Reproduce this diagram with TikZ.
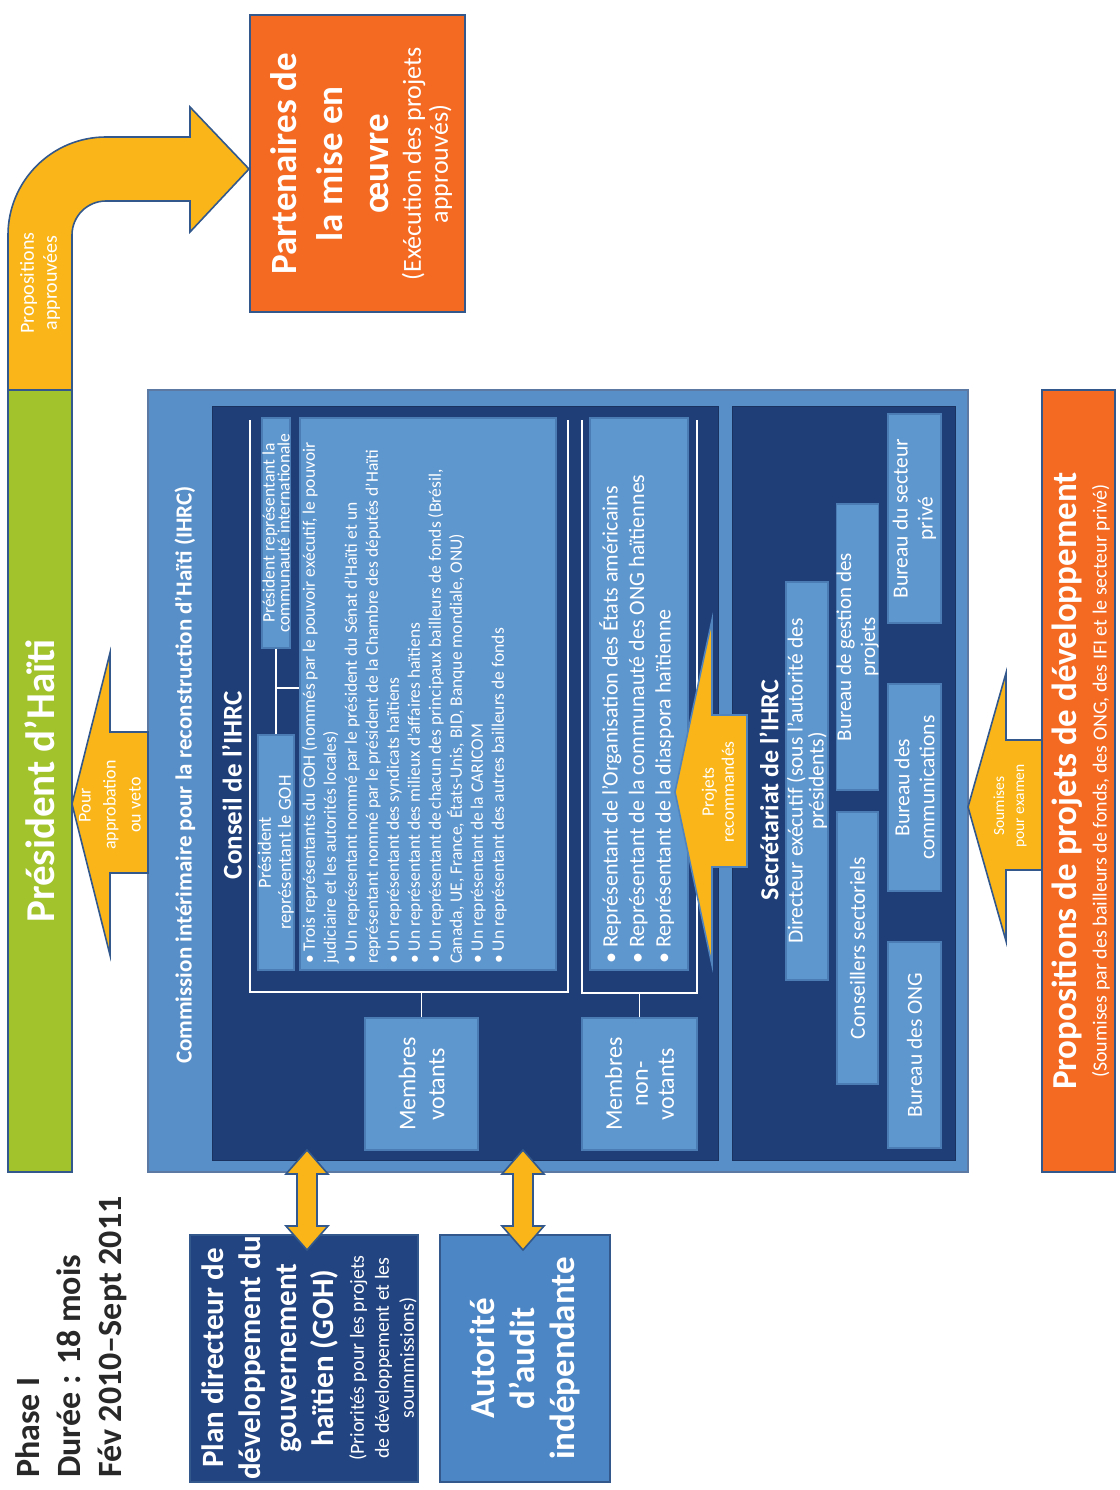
\documentclass[tikz,border=0pt]{standalone}
\usepackage{fontspec}
\setmainfont{Carlito}
\newcommand{\myfs}[2]{\fontsize{#1}{#2}\selectfont}
\definecolor{navy}{RGB}{31,62,120}
\definecolor{midblue}{RGB}{88,143,200}
\definecolor{lightbox}{RGB}{94,150,206}
\definecolor{auditblue}{RGB}{76,134,197}
\definecolor{planblue}{RGB}{34,68,128}
\definecolor{arrowfill}{RGB}{250,182,24}
\definecolor{orangebox}{RGB}{244,106,34}
\definecolor{greenbar}{RGB}{162,195,44}
\definecolor{edgeblue}{RGB}{50,88,140}
\definecolor{phasegray}{RGB}{40,40,40}
\begin{document}
\begin{tikzpicture}[x=1pt,y=-1pt,
  rbox/.style={rotate=90, draw=edgeblue, line width=1.5pt, inner sep=0pt, align=center, text=white},
  lbox/.style={rbox, fill=lightbox, draw=lightbox!70!navy, line width=1.2pt},
  rtext/.style={rotate=90, inner sep=0pt, align=center, text=white},
  blockarrow/.style={fill=arrowfill, draw=edgeblue, line width=1.6pt, line join=miter},
  wline/.style={draw=white, line width=1.4pt}]
\useasboundingbox (0,0) rectangle (1119,1490);
\fill[white] (0,0) rectangle (1119,1490);

% ---- Phase text
\node[rotate=90, anchor=north west, align=left, inner sep=0pt, text=phasegray,
      font=\bfseries\myfs{34}{41}] (phase) at (15,1478)
  {Phase I\\Durée : 18 mois\\Fév 2010–Sept 2011};

% ---- curved arrow (Propositions approuvées)
\draw[blockarrow] (8,392) -- (8,235) .. controls (8,180.9) and (51.9,137) .. (106,137)
  -- (190,137) -- (190,107) -- (249,169) -- (190,232) -- (190,201) -- (106,201)
  .. controls (87.2,201) and (72,216.2) .. (72,235) -- (72,392) -- cycle;
\node[rtext, font=\myfs{20}{23}] (propapp) at (40,283) {Propositions\\approuvées};

% ---- Président d'Haïti bar
\node[rbox, fill=greenbar, draw=edgeblue, minimum width=782, minimum height=64,
      font=\bfseries\myfs{41}{44}] (pres) at (40,781) {Président d’Haïti};

% ---- Partenaires
\node[rbox, fill=orangebox, minimum width=297, minimum height=215] (part) at (357.5,163.5) {};
\node[rtext, font=\bfseries\myfs{37}{46}] (partt) at (330,164) {Partenaires de\\la mise en\\œuvre};
\node[rtext, font=\myfs{26}{27}] (parts) at (427,164) {(Exécution des projets\\approuvés)};

% ---- IHRC outer
\node[rbox, fill=midblue, draw=edgeblue!80, minimum width=782, minimum height=820] (ihrc) at (558,781) {};
\node[rtext, font=\bfseries\myfs{23}{26}] (ihrct) at (185,775)
  {Commission intérimaire pour la reconstruction d’Haïti (IHRC)};

% ---- Conseil / Secrétariat dark panels
\node[rbox, fill=navy, draw=navy!80!black, line width=1pt, minimum width=754, minimum height=506] (conseil) at (465,783) {};
\node[rbox, fill=navy, draw=navy!80!black, line width=1pt, minimum width=754, minimum height=223] (secr) at (843.5,783) {};

\node[rtext, font=\bfseries\myfs{27}{30}] (conseilt) at (232,785) {Conseil de l’IHRC};

% brackets
\draw[wline] (250,420) -- (250,992) -- (568,992) -- (568,420);
\draw[wline] (582,420) -- (582,993) -- (697,993) -- (697,420);

% président boxes
\node[lbox, minimum width=230, minimum height=28, font=\myfs{17.5}{15}] (comm) at (276,533)
  {Président représentant la\\communauté internationale};
\node[lbox, minimum width=235, minimum height=28, font=\myfs{18.5}{20}] (goh) at (276,852.5)
  {Président\\représentant le GOH};
\draw[wline, line width=1.2pt] (comm.west) -- (goh.east);
\coordinate (tj) at (276,688);

% voting list
\node[lbox, minimum width=552, minimum height=256] (list) at (428,694) {};
\draw[wline, line width=1.2pt] (tj) -- (tj -| list.north);
\node[rotate=90, anchor=north west, align=left, inner sep=0pt, text=white, font=\myfs{17.5}{21}] (listt) at (302,964)
  {• Trois représentants du GOH (nommés par le pouvoir exécutif, le pouvoir\\
   judiciaire et les autorités locales)\\
   • Un représentant nommé par le président du Sénat d’Haïti et un\\
   représentant nommé par le président de la Chambre des députés d’Haïti\\
   • Un représentant des syndicats haïtiens\\
   • Un représentant des milieux d’affaires haïtiens\\
   • Un représentant de chacun des principaux bailleurs de fonds (Brésil,\\
   Canada, UE, France, États-Unis, BID, Banque mondiale, ONU)\\
   • Un représentant de la CARICOM\\
   • Un représentant des autres bailleurs de fonds};

% membres votants
\node[lbox, minimum width=132, minimum height=113, font=\myfs{24}{29}] (votants) at (421.5,1084) {Membres\\votants};
\coordinate (b1) at (421.5,992);
\draw[wline, line width=1.2pt] (votants.east) -- (b1);

% non-voting list
\node[lbox, minimum width=552, minimum height=98] (nvlist) at (639,694) {};
\node[rotate=90, anchor=north west, align=left, inner sep=0pt, text=white, font=\myfs{22}{26.5}] (nvlistt) at (599,964)
  {• Représentant de l’Organisation des États américains\\
   • Représentant de la communauté des ONG haïtiennes\\
   • Représentant de la diaspora haïtienne};

\node[lbox, minimum width=132, minimum height=115, font=\myfs{24}{26}] (nonvot) at (639.5,1084) {Membres\\non-\\votants};
\coordinate (b2) at (639.5,993);
\draw[wline, line width=1.2pt] (nonvot.east) -- (b2);

% Projets recommandés arrow
\draw[blockarrow, draw=lightbox!80!navy] (747,715) -- (712,715) -- (712,620) -- (675,792) -- (712,965) -- (712,867) -- (747,867) -- cycle;
\node[rtext, font=\myfs{17.5}{20}] (projrec) at (718,792) {Projets\\recommandés};

% Secrétariat
\node[rtext, font=\bfseries\myfs{26}{29}] (secrt) at (769,790) {Secrétariat de l’IHRC};
\node[lbox, minimum width=398, minimum height=42, font=\myfs{21.5}{21}] (dir) at (807,781)
  {Directeur exécutif (sous l’autorité des\\présidents)};
\node[lbox, minimum width=286, minimum height=41, font=\myfs{21}{24}] (gest) at (857.5,647)
  {Bureau de gestion des\\projets};
\node[lbox, minimum width=272, minimum height=41, font=\myfs{21.5}{24}] (cons) at (857.5,948)
  {Conseillers sectoriels};
\node[lbox, minimum width=209, minimum height=53, font=\myfs{21.5}{25}] (prive) at (914.5,518.5)
  {Bureau du secteur\\privé};
\node[lbox, minimum width=207, minimum height=53, font=\myfs{21.5}{25}] (comms) at (914.5,787.5)
  {Bureau des\\communications};
\node[lbox, minimum width=206, minimum height=53, font=\myfs{21.5}{25}] (ong) at (914.5,1045)
  {Bureau des ONG};

% Pour approbation arrow
\draw[blockarrow] (148,732) -- (110,732) -- (110,653) -- (72,804) -- (110,955) -- (110,873) -- (148,873) -- cycle;
\node[rtext, font=\myfs{18}{25}] (pourt) at (110,805) {Pour\\approbation\\ou veto};

% Propositions box
\node[rbox, fill=orangebox, minimum width=782, minimum height=73] (propo) at (1078.5,781) {};
\node[rtext, font=\bfseries\myfs{35}{38}] (propot) at (1067,781) {Propositions de projets de développement};
\node[rtext, font=\myfs{20}{22}] (propos) at (1101,781) {(Soumises par des bailleurs de fonds, des ONG, des IFI et le secteur privé)};

% Soumises arrow
\draw[blockarrow] (1042,740) -- (1006,740) -- (1006,673) -- (968,807) -- (1006,941) -- (1006,870) -- (1042,870) -- cycle;
\node[rtext, font=\myfs{15.5}{20}] (soumt) at (1010,806) {Soumises\\pour examen};

% Plan directeur and Autorité
\node[rbox, fill=planblue, minimum width=247, minimum height=228] (plan) at (304,1358.5) {};
\node[rtext, font=\bfseries\myfs{31}{36.7}] (plant) at (270,1358) {Plan directeur de\\développement du\\gouvernement\\haïtien (GOH)};
\node[rtext, font=\myfs{20}{25}] (plans) at (383,1358) {(Priorités pour les projets\\de développement et les\\soummissions)};
\node[rbox, fill=auditblue, minimum width=247, minimum height=170, font=\bfseries\myfs{35}{40}] (audit) at (525,1358.5)
  {Autorité\\d’audit\\indépendante};

% double arrows
\foreach \cx in {307, 523}{
  \draw[blockarrow] (\cx,1150) -- (\cx+21,1174) -- (\cx+10,1174) -- (\cx+10,1226) -- (\cx+21,1226)
    -- (\cx,1250) -- (\cx-21,1226) -- (\cx-10,1226) -- (\cx-10,1174) -- (\cx-21,1174) -- cycle;
}
\end{tikzpicture}
\end{document}
